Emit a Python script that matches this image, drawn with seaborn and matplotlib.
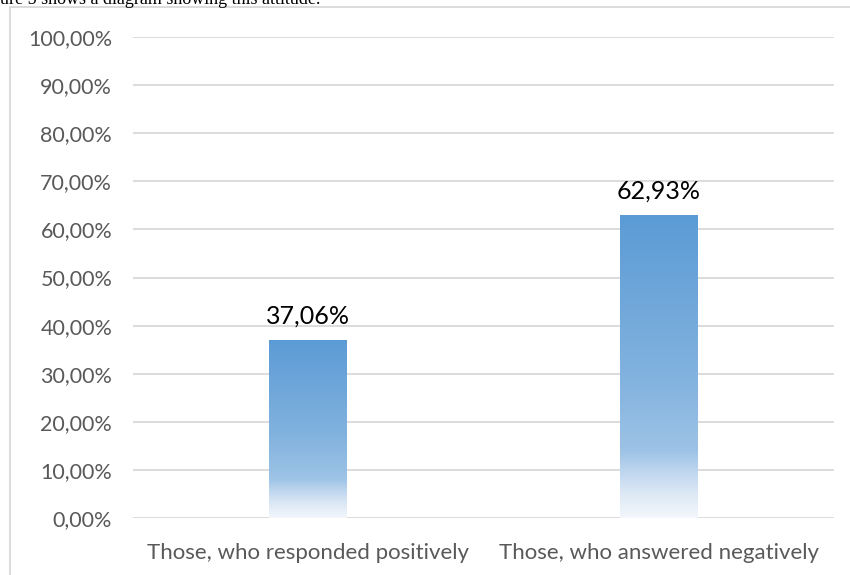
import numpy as np
import pandas as pd
import matplotlib
matplotlib.use("Agg")
import matplotlib.pyplot as plt
import seaborn as sns
from matplotlib.colors import LinearSegmentedColormap
from matplotlib.patches import Rectangle

categories = ["Those, who responded positively", "Those, who answered negatively"]
values = [37.06, 62.93]
value_labels = ["37,06%", "62,93%"]
tick_values = [0, 10, 20, 30, 40, 50, 60, 70, 80, 90, 100]
tick_labels = ["0,00%", "10,00%", "20,00%", "30,00%", "40,00%", "50,00%",
               "60,00%", "70,00%", "80,00%", "90,00%", "100,00%"]
caption = "ure 5 shows a diagram showing this attitude."

sns.set_theme(style="white")
plt.rcParams['font.family'] = ['Lato', 'DejaVu Sans']

W, H = 850, 575
fig = plt.figure(figsize=(W / 100, H / 100), dpi=100)
ax = fig.add_axes([133 / W, 1 - 518 / H, (834 - 133) / W, (518 - 37) / H])

df = pd.DataFrame({"cat": categories, "val": values})
sns.barplot(data=df, x="cat", y="val", ax=ax, width=0.222, color="#5B9BD5",
            zorder=3)

ax.set_ylim(0, 100)
ax.set_xlim(-0.5, 1.5)
ax.set_yticks(tick_values)
ax.set_yticklabels(tick_labels)
ax.set_xlabel("")
ax.set_ylabel("")
ax.tick_params(axis='y', length=0, pad=15, labelsize=15.5, labelcolor="#595959")
ax.tick_params(axis='x', length=0, pad=18, labelsize=16, labelcolor="#595959")
for s in ax.spines.values():
    s.set_visible(False)
for t in tick_values:
    ax.axhline(t, color="#D9D9D9", lw=1.3, zorder=1)

cmap = LinearSegmentedColormap.from_list(
    "grad",
    [(0.0, "#F3F7FC"), (0.08, "#DCE8F5"), (0.16, "#BBD4EE"), (0.22, "#9DC3E6"),
     (0.45, "#83B3DF"), (1.0, "#5B9BD5")])
grad = np.linspace(0, 1, 256).reshape(-1, 1)
for p, lab in zip(ax.patches, value_labels):
    x0, y0 = p.get_x(), p.get_y()
    w, h = p.get_width(), p.get_height()
    im = ax.imshow(grad, cmap=cmap, origin="lower", aspect="auto",
                   extent=[x0, x0 + w, y0, y0 + h], zorder=3,
                   interpolation="bilinear")
    im.set_clip_path(p)
    p.set_facecolor("none")
    p.set_edgecolor("none")
    ax.text(x0 + w / 2, y0 + h + 2.6, lab, ha="center", va="bottom",
            fontsize=18, color="black")
ax.set_xlim(-0.5, 1.5)
ax.set_ylim(0, 100)

fig.patches.append(Rectangle((10 / W, -0.1), 1.2, 1 - 7 / H + 0.1,
                             transform=fig.transFigure, fill=False,
                             edgecolor="#D9D9D9", lw=1.3))
fig.text(0 / W, 1 - 4 / H, caption, ha="left", va="baseline",
         fontsize=13, family=["Liberation Serif", "DejaVu Serif"], color="black")

fig.savefig("out.png", dpi=100)
